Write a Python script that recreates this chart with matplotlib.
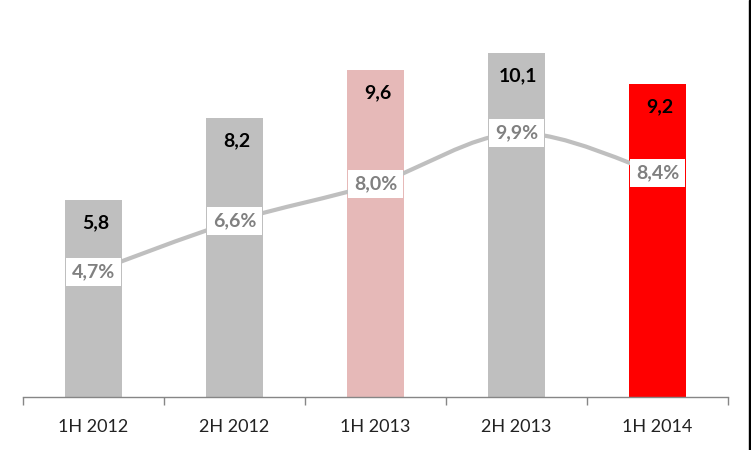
import matplotlib
matplotlib.use("Agg")
import matplotlib.pyplot as plt
from matplotlib.path import Path
from matplotlib.patches import PathPatch
import numpy as np

categories = ["1H 2012", "2H 2012", "1H 2013", "2H 2013", "1H 2014"]
bar_values = [5.8, 8.2, 9.6, 10.1, 9.2]
bar_labels = ["5,8", "8,2", "9,6", "10,1", "9,2"]
pct_values = [4.7, 6.6, 8.0, 9.9, 8.4]
pct_labels = ["4,7%", "6,6%", "8,0%", "9,9%", "8,4%"]
bar_colors = ["#bfbfbf", "#bfbfbf", "#e6b9b8", "#bfbfbf", "#ff0000"]

plt.rcParams["font.family"] = ["Lato", "DejaVu Sans"]

fig = plt.figure(figsize=(7.51, 4.5), dpi=100)
ax = fig.add_axes([23 / 751, 53 / 450, 705 / 751, 397 / 450])
x = np.arange(len(categories))

ax.bar(x, bar_values, width=0.40, color=bar_colors, zorder=2)
for xi, v, lab in zip(x, bar_values, bar_labels):
    ax.annotate(lab, (xi, v), xytext=(2, -23), textcoords="offset pixels",
                ha="center", va="center", fontsize=14, fontweight="bold",
                color="black", zorder=3)

ax.set_xlim(-0.5, len(categories) - 0.5)
ax.set_ylim(0, 11.66)
ax.set_yticks([])
ax.set_xticks(x)
ax.set_xticklabels(categories, fontsize=13, color="#222222")
ax.set_xticks(np.arange(-0.5, len(categories)), minor=True)
ax.tick_params(axis="x", which="major", length=0, pad=16)
ax.tick_params(axis="x", which="minor", length=6, color="#868686", width=1)
for s in ["top", "right", "left"]:
    ax.spines[s].set_visible(False)
ax.spines["bottom"].set_color("#868686")
ax.spines["bottom"].set_linewidth(1)

# secondary axis for the percentage line
ax2 = ax.twinx()
ax2.set_ylim(0, 14.9)
ax2.set_yticks([])
for s in ax2.spines.values():
    s.set_visible(False)

# smoothed line (Bezier through the data points)
pts = np.column_stack([x, pct_values]).astype(float)
ext = np.vstack([pts[0], pts, pts[-1]])
verts = [tuple(pts[0])]
codes = [Path.MOVETO]
for i in range(len(pts) - 1):
    p0, p1, p2, p3 = ext[i], ext[i + 1], ext[i + 2], ext[i + 3]
    c1 = p1 + (p2 - p0) / 6
    c2 = p2 - (p3 - p1) / 6
    verts += [tuple(c1), tuple(c2), tuple(p2)]
    codes += [Path.CURVE4] * 3
ax2.add_patch(PathPatch(Path(verts, codes), facecolor="none",
                        edgecolor="#bfbfbf", linewidth=3, zorder=2,
                        capstyle="round"))

for xi, v, lab in zip(x, pct_values, pct_labels):
    ax2.text(xi, v, lab, ha="center", va="center", fontsize=14,
             fontweight="bold", color="#808080", zorder=4,
             bbox=dict(boxstyle="square,pad=0.28", facecolor="white",
                       edgecolor="none"))

# dark strip at the right edge
fig.patches.append(plt.Rectangle((749 / 751, 0), 2 / 751, 1,
                                 transform=fig.transFigure,
                                 color="black", zorder=10))

fig.savefig("out.png", dpi=100)
